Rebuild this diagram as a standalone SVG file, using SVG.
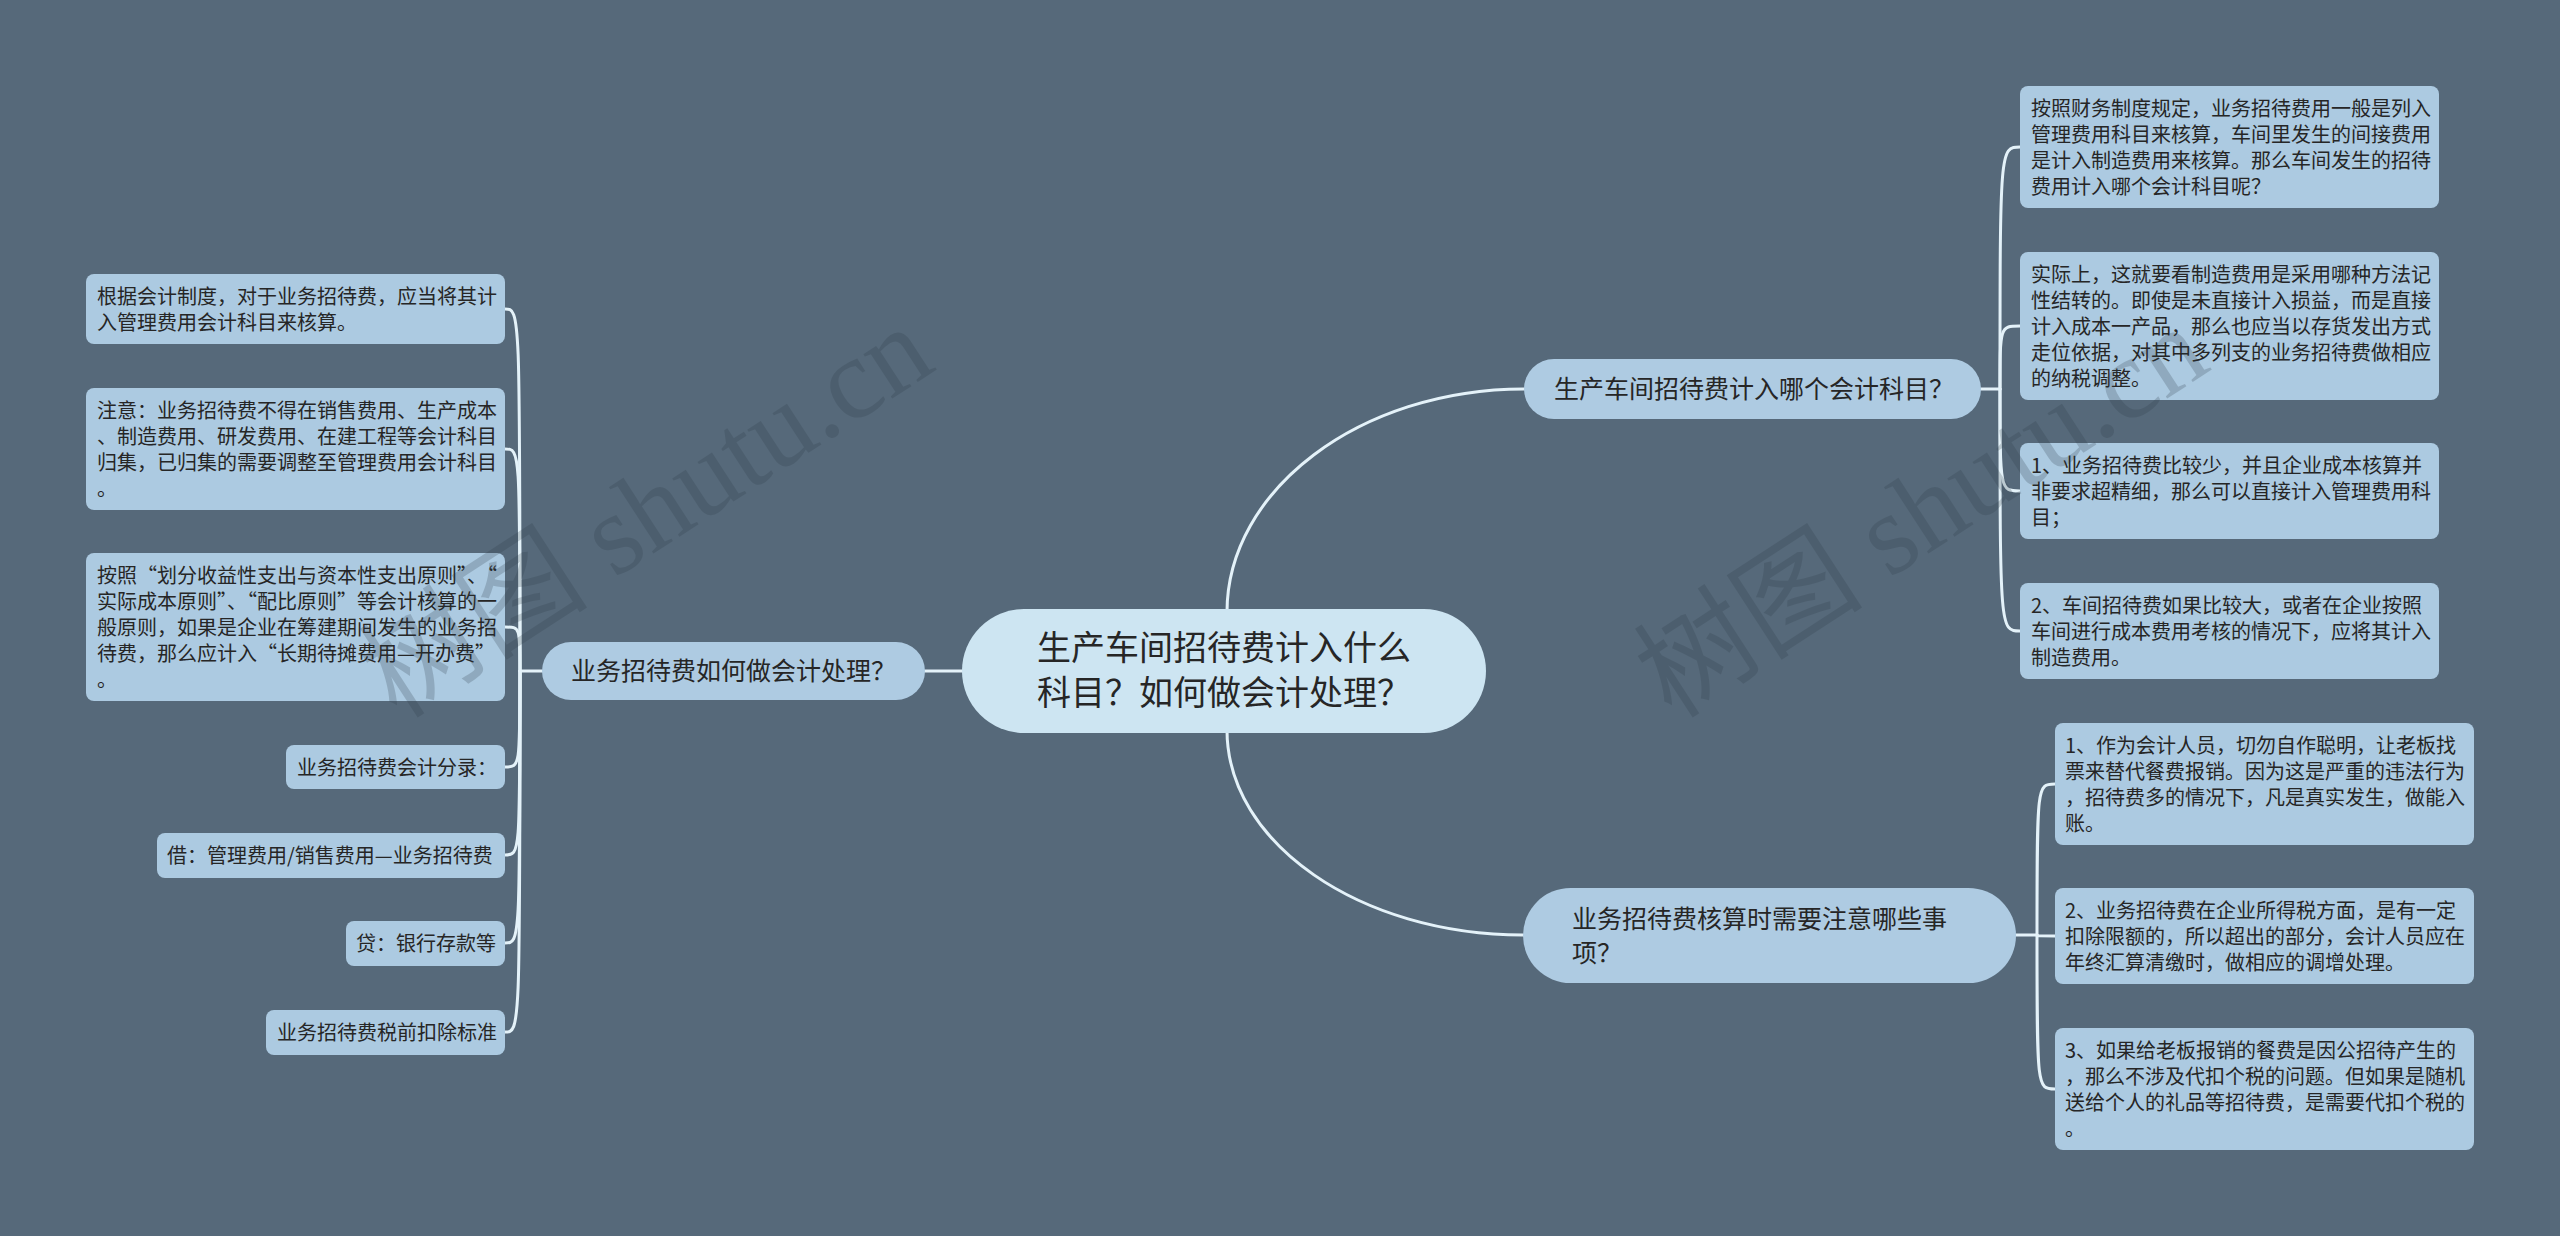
<svg xmlns="http://www.w3.org/2000/svg" width="2560" height="1236" viewBox="0 0 2560 1236">
<style>
.t{font-family:"Noto Sans CJK SC","Noto Sans",sans-serif;fill:#262626}
.lt{font-size:20px}
.leaf{fill:#accae1}
.br{fill:#aecbe2}
.cn{fill:#cde5f2}
.ln{fill:none;stroke:#e4f2f9;stroke-width:3;stroke-linecap:round}
.wm{font-family:"Liberation Serif","Noto Sans CJK SC",serif;font-size:115px;fill:#2c3a45;opacity:0.22}
</style>
<rect x="0" y="0" width="2560" height="1236" fill="#56697a"/>
<g id="connectors">
<path class="ln" d="M962,671 L925,671"/>
<path class="ln" d="M1227,612 C1227,490 1360,389 1524,389"/>
<path class="ln" d="M1227,730 C1227,843 1360,935 1523,935"/>
<path class="ln" d="M542,671 L520,671"/>
<path class="ln" d="M520,671 C520,309 520,309 505,309"/>
<path class="ln" d="M520,671 C520,449 520,449 505,449"/>
<path class="ln" d="M520,671 C520,627 520,627 505,627"/>
<path class="ln" d="M520,671 C520,767 520,767 505,767"/>
<path class="ln" d="M520,671 C520,855 520,855 505,855"/>
<path class="ln" d="M520,671 C520,943 520,943 505,943"/>
<path class="ln" d="M520,671 C520,1032 520,1032 505,1032"/>
<path class="ln" d="M1981,389 L2000,389"/>
<path class="ln" d="M2000,389 C2000,147 2000,147 2020,147"/>
<path class="ln" d="M2000,389 C2000,326 2000,326 2020,326"/>
<path class="ln" d="M2000,389 C2000,491 2000,491 2020,491"/>
<path class="ln" d="M2000,389 C2000,631 2000,631 2020,631"/>
<path class="ln" d="M2016,935 L2037,935"/>
<path class="ln" d="M2037,935 C2037,784 2037,784 2055,784"/>
<path class="ln" d="M2037,935 C2037,936 2037,936 2055,936"/>
<path class="ln" d="M2037,935 C2037,1089 2037,1089 2055,1089"/>
</g>
<g id="center">
<rect class="cn" x="962" y="609" width="524" height="124" rx="62"/>
<text class="t" font-size="34" x="1037" y="660">生产车间招待费计入什么</text>
<text class="t" font-size="34" x="1037" y="705">科目？如何做会计处理？</text>
</g>
<g id="branch-r1">
<rect class="br" x="1524" y="359" width="457" height="60" rx="30"/>
<text class="t" font-size="25" x="1554" y="398">生产车间招待费计入哪个会计科目？</text>
</g>
<g id="branch-r2">
<rect class="br" x="1523" y="888" width="493" height="95" rx="47.5"/>
<text class="t" font-size="25" x="1572" y="928">业务招待费核算时需要注意哪些事</text>
<text class="t" font-size="25" x="1572" y="962">项？</text>
</g>
<g id="branch-l">
<rect class="br" x="542" y="642" width="383" height="58" rx="29"/>
<text class="t" font-size="25" x="733.5" y="680" text-anchor="middle">业务招待费如何做会计处理？</text>
</g>
<g id="r1-leaf1">
<rect class="leaf" x="2020" y="86" width="419" height="122" rx="8"/>
<text class="t lt" x="2031" y="115.5">按照财务制度规定，业务招待费用一般是列入</text>
<text class="t lt" x="2031" y="141.5">管理费用科目来核算，车间里发生的间接费用</text>
<text class="t lt" x="2031" y="167.5">是计入制造费用来核算。那么车间发生的招待</text>
<text class="t lt" x="2031" y="193.5">费用计入哪个会计科目呢？</text>
</g>
<g id="r1-leaf2">
<rect class="leaf" x="2020" y="252" width="419" height="148" rx="8"/>
<text class="t lt" x="2031" y="281.5">实际上，这就要看制造费用是采用哪种方法记</text>
<text class="t lt" x="2031" y="307.5">性结转的。即使是未直接计入损益，而是直接</text>
<text class="t lt" x="2031" y="333.5">计入成本一产品，那么也应当以存货发出方式</text>
<text class="t lt" x="2031" y="359.5">走位依据，对其中多列支的业务招待费做相应</text>
<text class="t lt" x="2031" y="385.5">的纳税调整。</text>
</g>
<g id="r1-leaf3">
<rect class="leaf" x="2020" y="443" width="419" height="96" rx="8"/>
<text class="t lt" x="2031" y="472.5">1、业务招待费比较少，并且企业成本核算并</text>
<text class="t lt" x="2031" y="498.5">非要求超精细，那么可以直接计入管理费用科</text>
<text class="t lt" x="2031" y="524.5">目；</text>
</g>
<g id="r1-leaf4">
<rect class="leaf" x="2020" y="583" width="419" height="96" rx="8"/>
<text class="t lt" x="2031" y="612.5">2、车间招待费如果比较大，或者在企业按照</text>
<text class="t lt" x="2031" y="638.5">车间进行成本费用考核的情况下，应将其计入</text>
<text class="t lt" x="2031" y="664.5">制造费用。</text>
</g>
<g id="r2-leaf1">
<rect class="leaf" x="2055" y="723" width="419" height="122" rx="8"/>
<text class="t lt" x="2065" y="752.5">1、作为会计人员，切勿自作聪明，让老板找</text>
<text class="t lt" x="2065" y="778.5">票来替代餐费报销。因为这是严重的违法行为</text>
<text class="t lt" x="2065" y="804.5">，招待费多的情况下，凡是真实发生，做能入</text>
<text class="t lt" x="2065" y="830.5">账。</text>
</g>
<g id="r2-leaf2">
<rect class="leaf" x="2055" y="888" width="419" height="96" rx="8"/>
<text class="t lt" x="2065" y="917.5">2、业务招待费在企业所得税方面，是有一定</text>
<text class="t lt" x="2065" y="943.5">扣除限额的，所以超出的部分，会计人员应在</text>
<text class="t lt" x="2065" y="969.5">年终汇算清缴时，做相应的调增处理。</text>
</g>
<g id="r2-leaf3">
<rect class="leaf" x="2055" y="1028" width="419" height="122" rx="8"/>
<text class="t lt" x="2065" y="1057.5">3、如果给老板报销的餐费是因公招待产生的</text>
<text class="t lt" x="2065" y="1083.5">，那么不涉及代扣个税的问题。但如果是随机</text>
<text class="t lt" x="2065" y="1109.5">送给个人的礼品等招待费，是需要代扣个税的</text>
<text class="t lt" x="2065" y="1135.5">。</text>
</g>
<g id="l-leaf1">
<rect class="leaf" x="86" y="274" width="419" height="70" rx="8"/>
<text class="t lt" x="97" y="303.5">根据会计制度，对于业务招待费，应当将其计</text>
<text class="t lt" x="97" y="329.5">入管理费用会计科目来核算。</text>
</g>
<g id="l-leaf2">
<rect class="leaf" x="86" y="388" width="419" height="122" rx="8"/>
<text class="t lt" x="97" y="417.5">注意：业务招待费不得在销售费用、生产成本</text>
<text class="t lt" x="97" y="443.5">、制造费用、研发费用、在建工程等会计科目</text>
<text class="t lt" x="97" y="469.5">归集，已归集的需要调整至管理费用会计科目</text>
<text class="t lt" x="97" y="495.5">。</text>
</g>
<g id="l-leaf3">
<rect class="leaf" x="86" y="553" width="419" height="148" rx="8"/>
<text class="t lt" x="97" y="582.5">按照“划分收益性支出与资本性支出原则”、“</text>
<text class="t lt" x="97" y="608.5">实际成本原则”、“配比原则”等会计核算的一</text>
<text class="t lt" x="97" y="634.5">般原则，如果是企业在筹建期间发生的业务招</text>
<text class="t lt" x="97" y="660.5">待费，那么应计入“长期待摊费用—开办费”</text>
<text class="t lt" x="97" y="686.5">。</text>
</g>
<g id="l-leaf4">
<rect class="leaf" x="286" y="745" width="219" height="44" rx="8"/>
<text class="t lt" x="297" y="774.5">业务招待费会计分录：</text>
</g>
<g id="l-leaf5">
<rect class="leaf" x="157" y="833" width="348" height="45" rx="8"/>
<text class="t lt" x="167" y="862.5">借：管理费用/销售费用—业务招待费</text>
</g>
<g id="l-leaf6">
<rect class="leaf" x="346" y="921" width="159" height="45" rx="8"/>
<text class="t lt" x="356" y="950.5">贷：银行存款等</text>
</g>
<g id="l-leaf7">
<rect class="leaf" x="266" y="1010" width="239" height="45" rx="8"/>
<text class="t lt" x="277" y="1039.5">业务招待费税前扣除标准</text>
</g>
<g id="watermarks">
<text class="wm" transform="translate(397,720) rotate(-33)">树图 shutu.cn</text>
<text class="wm" transform="translate(1672,720) rotate(-33)">树图 shutu.cn</text>
</g>
</svg>
